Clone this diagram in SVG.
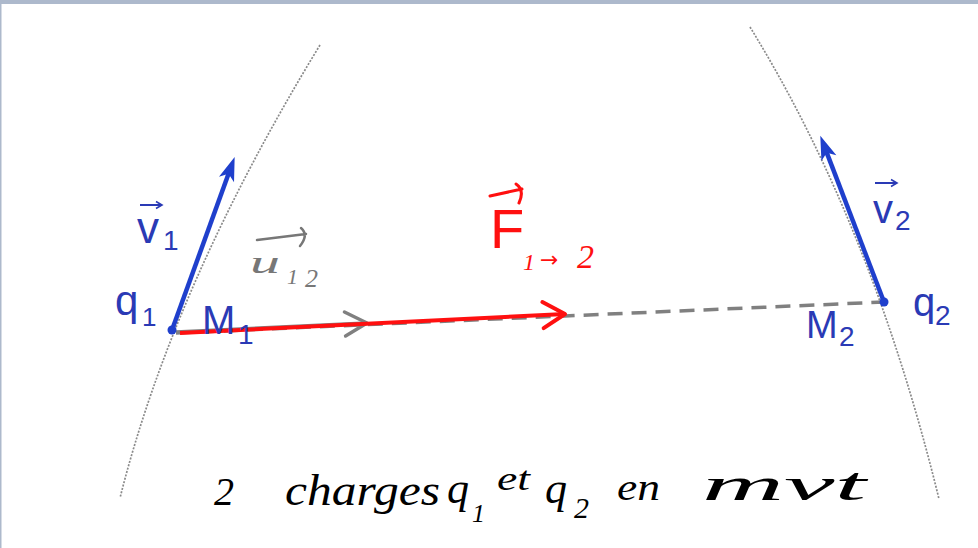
<svg xmlns="http://www.w3.org/2000/svg" width="978" height="548" viewBox="0 0 978 548">
<defs>
<style>
.traj{fill:none;stroke:#8a8a8a;stroke-width:1.7;stroke-dasharray:2 1.5}
.vel{stroke:#1f3fcc;stroke-width:4.5;fill:none}
.dot{fill:#1f3fcc}
.lbl{font-family:"Liberation Sans",Arial,sans-serif;fill:#2a3ab5}
.hand{font-family:"Liberation Serif","Times New Roman",serif;font-style:italic}
.ovb{stroke:#2a3ab5;stroke-width:2;fill:none}
</style>
<marker id="headBlue" viewBox="-26 -10 28 20" markerWidth="28" markerHeight="20" refX="-14" refY="0" orient="auto" markerUnits="userSpaceOnUse">
<path d="M0,0 L-24,-8 L-18,0 L-24,8 Z" fill="#1f3fcc"/>
</marker>
<marker id="chevRed" viewBox="-26 -16 30 32" markerWidth="30" markerHeight="32" refX="0" refY="0" orient="auto" markerUnits="userSpaceOnUse">
<path d="M-22,-13 L0,0 L-22,13" fill="none" stroke="#ff1010" stroke-width="4" stroke-linecap="round" stroke-linejoin="round"/>
</marker>
<marker id="chevGray" viewBox="-26 -16 30 32" markerWidth="30" markerHeight="32" refX="0" refY="0" orient="auto" markerUnits="userSpaceOnUse">
<path d="M-22,-12 L0,0 L-22,12" fill="none" stroke="#808080" stroke-width="3.5" stroke-linecap="round" stroke-linejoin="round"/>
</marker>
<marker id="smallBlue" viewBox="-8 -5 10 10" markerWidth="10" markerHeight="10" refX="0" refY="0" orient="auto" markerUnits="userSpaceOnUse">
<path d="M-6,-3.5 L0,0 L-6,3.5" fill="none" stroke="#2a3ab5" stroke-width="1.6"/>
</marker>
</defs>
<rect x="0" y="0" width="978" height="548" fill="#ffffff"/>
<rect x="0" y="0" width="978" height="4" fill="#adb9cc"/>
<rect x="0" y="0" width="1.5" height="548" fill="#adb9cc"/>

<g id="trajectory1"><path class="traj" d="M320,45 Q173,286 120,498"/></g>
<g id="trajectory2"><path class="traj" d="M750,27 Q872,225 939,499"/></g>

<g id="connectors">
<line x1="176" y1="333" x2="884" y2="302" stroke="#808080" stroke-width="3.5" stroke-dasharray="15 9"/>
<line x1="176" y1="332" x2="367" y2="323" stroke="#808080" stroke-width="3.5" marker-end="url(#chevGray)"/>
<line x1="180" y1="333" x2="565" y2="314" stroke="#ff1010" stroke-width="4" marker-end="url(#chevRed)"/>
</g>

<g id="charge1">
<line class="vel" x1="172" y1="330" x2="229.9" y2="170.1" marker-end="url(#headBlue)"/>
<circle class="dot" cx="172" cy="330" r="4.5"/>
<text class="lbl" x="115" y="315" font-size="42">q</text>
<text class="lbl" x="142" y="326" font-size="26">1</text>
<text class="lbl" x="202" y="334" font-size="40">M</text>
<text class="lbl" x="238" y="344" font-size="28">1</text>
</g>
<g id="v1">
<text class="lbl" x="137" y="243" font-size="44">v</text>
<text class="lbl" x="163" y="250" font-size="28">1</text>
<line class="ovb" x1="140" y1="205" x2="162" y2="205" marker-end="url(#smallBlue)"/>
</g>

<g id="charge2">
<line class="vel" x1="884" y1="302" x2="825.3" y2="148.9" marker-end="url(#headBlue)"/>
<circle class="dot" cx="884" cy="302" r="4.5"/>
<text class="lbl" x="913" y="316" font-size="40">q</text>
<text class="lbl" x="935" y="325" font-size="28">2</text>
<text class="lbl" x="806" y="338" font-size="38">M</text>
<text class="lbl" x="839" y="346" font-size="28">2</text>
</g>
<g id="v2">
<text class="lbl" x="873" y="223" font-size="40">v</text>
<text class="lbl" x="895" y="230" font-size="28">2</text>
<line class="ovb" x1="875" y1="183" x2="897" y2="183" marker-end="url(#smallBlue)"/>
</g>

<g id="u12" fill="#777777">
<text class="hand" x="250" y="273" font-size="32" textLength="30" lengthAdjust="spacingAndGlyphs">u</text>
<text class="hand" x="287" y="284" font-size="22">1</text>
<text class="hand" x="305" y="287" font-size="26">2</text>
<path d="M257,240 L306,234 M301,228 Q309,235 300,246" fill="none" stroke="#777777" stroke-width="2.5" stroke-linecap="round"/>
</g>

<g id="F12" fill="#ff1010">
<path d="M490,196 L522,189 M516,184 Q525,190 519,203" fill="none" stroke="#ff1010" stroke-width="3" stroke-linecap="round"/>
<text x="490" y="248" font-size="56" font-family="'Liberation Sans',Arial,sans-serif">F</text>
<text class="hand" x="523" y="270" font-size="24">1</text>
<text x="540" y="267" font-size="22" font-family="'DejaVu Sans',sans-serif">→</text>
<text class="hand" x="577" y="268" font-size="34">2</text>
</g>

<g id="caption" fill="#000000">
<text class="hand" x="214" y="505" font-size="40">2</text>
<text class="hand" x="285" y="505" font-size="44" textLength="155" lengthAdjust="spacingAndGlyphs">charges</text>
<text class="hand" x="447" y="503" font-size="44">q</text>
<text class="hand" x="472" y="522" font-size="26">1</text>
<text class="hand" x="497" y="490" font-size="34" textLength="33" lengthAdjust="spacingAndGlyphs">et</text>
<text class="hand" x="545" y="503" font-size="44">q</text>
<text class="hand" x="574" y="518" font-size="30">2</text>
<text class="hand" x="617" y="500" font-size="38" textLength="43" lengthAdjust="spacingAndGlyphs">en</text>
<text class="hand" x="702" y="500" font-size="46" textLength="164" lengthAdjust="spacingAndGlyphs">mvt</text>
</g>
</svg>
